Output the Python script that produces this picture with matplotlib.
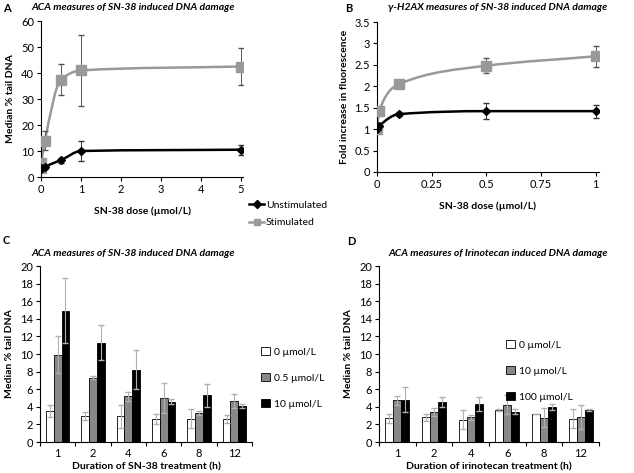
import numpy as np
import matplotlib
matplotlib.use("Agg")
from matplotlib import pyplot as plt
from matplotlib.path import Path
from matplotlib.patches import PathPatch, Patch
from matplotlib.lines import Line2D

plt.rcParams['font.family'] = ['Lato', 'DejaVu Sans']
plt.rcParams['font.size'] = 7.5

# panel A - ACA dose response
dose_a = [0, 0.01, 0.1, 0.5, 1, 5]
unstim_a = [3.0, 3.3, 4.0, 6.5, 10.0, 10.5]
unstim_a_err = [0.5, 0.5, 0.8, 1.0, 4.0, 2.0]
stim_a = [3.3, 5.2, 14.0, 37.5, 41.0, 42.5]
stim_a_err = [1.0, 1.5, 3.7, 6.0, 13.7, 7.3]

# panel B - gamma-H2AX dose response
dose_b = [0, 0.01, 0.1, 0.5, 1]
unstim_b = [1.0, 1.07, 1.35, 1.42, 1.42]
unstim_b_err = [0.03, 0.03, 0.04, 0.18, 0.15]
stim_b = [1.0, 1.42, 2.05, 2.48, 2.7]
stim_b_err = [0.05, 0.05, 0.1, 0.17, 0.25]

# panel C - SN-38 time course
hours = ['1', '2', '4', '6', '8', '12']
c_labels = ['0 µmol/L', '0.5 µmol/L', '10 µmol/L']
c_vals = [[3.5, 3.0, 2.9, 2.6, 2.65, 2.6],
          [9.9, 7.3, 5.2, 5.0, 3.3, 4.7],
          [14.9, 11.3, 8.2, 4.6, 5.3, 4.1]]
c_err = [[0.7, 0.45, 1.3, 0.6, 1.1, 0.45],
         [2.1, 0.15, 0.5, 1.7, 0.25, 0.8],
         [3.7, 2.0, 2.2, 0.3, 1.3, 0.2]]

# panel D - irinotecan time course
d_labels = ['0 µmol/L', '10 µmol/L', '100 µmol/L']
d_vals = [[2.7, 2.8, 2.55, 3.6, 3.2, 2.65],
          [4.75, 3.4, 2.8, 4.25, 2.75, 2.85],
          [4.8, 4.55, 4.3, 3.45, 4.0, 3.6]]
d_err = [[0.5, 0.4, 1.1, 0.1, 0.02, 1.1],
         [0.5, 0.45, 0.3, 1.1, 1.1, 1.35],
         [1.4, 0.55, 0.8, 0.3, 0.35, 0.1]]

W, H = 634, 473
fig = plt.figure(figsize=(W / 100, H / 100), dpi=100)


def px_axes(left, top, right, bottom):
    return fig.add_axes([left / W, 1 - bottom / H, (right - left) / W, (bottom - top) / H])


def ftext(x, y, s, **kw):
    fig.text(x / W, 1 - y / H, s, **kw)


def smooth(ax, x, y, color):
    # monotone cubic curve through the points (Excel-like smoothed line)
    x = np.asarray(x, float)
    y = np.asarray(y, float)
    d = np.diff(y) / np.diff(x)
    m = np.zeros_like(y)
    m[0], m[-1] = d[0], d[-1]
    for i in range(1, len(y) - 1):
        if d[i - 1] * d[i] > 0:
            h0, h1 = x[i] - x[i - 1], x[i + 1] - x[i]
            w1, w2 = 2 * h1 + h0, h1 + 2 * h0
            m[i] = (w1 + w2) / (w1 / d[i - 1] + w2 / d[i])
    verts = [(x[0], y[0])]
    codes = [Path.MOVETO]
    for i in range(len(x) - 1):
        h = x[i + 1] - x[i]
        verts += [(x[i] + h / 3, y[i] + m[i] * h / 3),
                  (x[i + 1] - h / 3, y[i + 1] - m[i + 1] * h / 3),
                  (x[i + 1], y[i + 1])]
        codes += [Path.CURVE4] * 3
    ax.add_patch(PathPatch(Path(verts, codes), fill=False, edgecolor=color, lw=1.8, zorder=2))


def style(ax):
    for s in ['top', 'right']:
        ax.spines[s].set_visible(False)
    ax.spines['left'].set_color('black')
    ax.spines['bottom'].set_color('black')
    ax.tick_params(direction='out', length=3, width=0.8, labelsize=8, pad=2)


black = '#000000'
grey = '#999999'

# A
ax = px_axes(41, 21, 243, 177)
smooth(ax, dose_a, stim_a, grey)
smooth(ax, dose_a, unstim_a, black)
ax.errorbar(dose_a, stim_a, yerr=stim_a_err, fmt='s', color=grey, ms=6.5,
            ecolor='#555555', elinewidth=0.7, capsize=2, zorder=3)
ax.errorbar(dose_a, unstim_a, yerr=unstim_a_err, fmt='D', color=black, ms=4,
            ecolor='#333333', elinewidth=0.7, capsize=2, zorder=4)
ax.set_xlim(0, 5.05)
ax.set_ylim(0, 60)
ax.set_xticks([0, 1, 2, 3, 4, 5])
ax.set_yticks(range(0, 61, 10))
style(ax)
ax.set_xlabel('SN-38 dose (µmol/L)', fontweight='bold', fontsize=7.5, labelpad=8)
ax.set_ylabel('Median % tail DNA', fontweight='bold', fontsize=7.5, labelpad=4)
handles = [Line2D([], [], color=black, marker='D', ms=4, lw=1.8),
           Line2D([], [], color=grey, marker='s', ms=5, lw=1.8)]
fig.legend(handles, ['Unstimulated', 'Stimulated'], loc='center left',
           bbox_to_anchor=(244 / W, 1 - 214 / H), frameon=False, fontsize=7.5,
           handlelength=1.4, handletextpad=0.2, labelspacing=0.8, borderpad=0)
ftext(3, 8, 'A', fontweight='bold', fontsize=8, va='center')
ftext(133, 8, 'ACA measures of SN-38 induced DNA damage', fontweight='bold',
      style='italic', fontsize=7.5, ha='center', va='center')

# B
ax = px_axes(377, 22, 599, 172)
smooth(ax, dose_b, stim_b, grey)
smooth(ax, dose_b, unstim_b, black)
ax.errorbar(dose_b, stim_b, yerr=stim_b_err, fmt='s', color=grey, ms=6.5,
            ecolor='#555555', elinewidth=0.7, capsize=2, zorder=3)
ax.errorbar(dose_b, unstim_b, yerr=unstim_b_err, fmt='D', color=black, ms=4,
            ecolor='#333333', elinewidth=0.7, capsize=2, zorder=4)
ax.set_xlim(0, 1.015)
ax.set_ylim(0, 3.5)
ax.set_xticks([0, 0.25, 0.5, 0.75, 1])
ax.set_xticklabels(['0', '0.25', '0.5', '0.75', '1'])
ax.set_yticks([0, 0.5, 1, 1.5, 2, 2.5, 3, 3.5])
ax.set_yticklabels(['0', '0.5', '1', '1.5', '2', '2.5', '3', '3.5'])
style(ax)
ax.set_xlabel('SN-38 dose (µmol/L)', fontweight='bold', fontsize=7.5, labelpad=8)
ax.set_ylabel('Fold increase in fluorescence', fontweight='bold', fontsize=7.5, labelpad=4)
ftext(345, 8, 'B', fontweight='bold', fontsize=8, va='center')
ftext(498, 8, 'γ-H2AX measures of SN-38 induced DNA damage', fontweight='bold',
      style='italic', fontsize=7.5, ha='center', va='center')


def bars(ax, vals, errs, labels, xlabel, leg_xy):
    x = np.arange(len(hours))
    w = 0.22
    fills = ['white', '#888888', 'black']
    for k in range(3):
        ax.bar(x + (k - 1) * w, vals[k], w, color=fills[k], edgecolor='black',
               linewidth=0.6, zorder=2, label=labels[k])
        ax.errorbar(x + (k - 1) * w, vals[k], yerr=errs[k], fmt='none',
                    ecolor='#b0b0b0', elinewidth=0.8, capsize=2, zorder=3)
    ax.set_xlim(-0.5, 5.42)
    ax.set_ylim(0, 20)
    ax.set_yticks(range(0, 21, 2))
    ax.set_xticks(x)
    ax.set_xticklabels(hours)
    ax.set_xticks(np.arange(-0.5, 5.6, 1), minor=True)
    style(ax)
    ax.tick_params(axis='x', which='major', length=0, pad=4)
    ax.tick_params(axis='x', which='minor', length=3, width=0.8, direction='out')
    ax.set_xlabel(xlabel, fontweight='bold', fontsize=7.5, labelpad=3)
    ax.set_ylabel('Median % tail DNA', fontweight='bold', fontsize=7.5, labelpad=4)
    hs = [Patch(facecolor=fills[k], edgecolor='black', linewidth=0.6) for k in range(3)]
    fig.legend(hs, labels, loc='center left', bbox_to_anchor=(leg_xy[0] / W, 1 - leg_xy[1] / H),
               frameon=False, fontsize=7.5, handlelength=0.8, handleheight=0.8,
               handletextpad=0.4, labelspacing=1.6, borderpad=0)


ax = px_axes(40, 266, 252, 442)
bars(ax, c_vals, c_err, c_labels, 'Duration of SN-38 treatment (h)', (256, 378))
ftext(3, 240, 'C', fontweight='bold', fontsize=8, va='center')
ftext(133, 253, 'ACA measures of SN-38 induced DNA damage', fontweight='bold',
      style='italic', fontsize=7.5, ha='center', va='center')

ax = px_axes(379, 266, 599, 442)
bars(ax, d_vals, d_err, d_labels, 'Duration of irinotecan treatment (h)', (501, 371))
ftext(347, 241, 'D', fontweight='bold', fontsize=8, va='center')
ftext(498, 253, 'ACA measures of Irinotecan induced DNA damage', fontweight='bold',
      style='italic', fontsize=7.5, ha='center', va='center')

fig.savefig('out.png', dpi=100)
